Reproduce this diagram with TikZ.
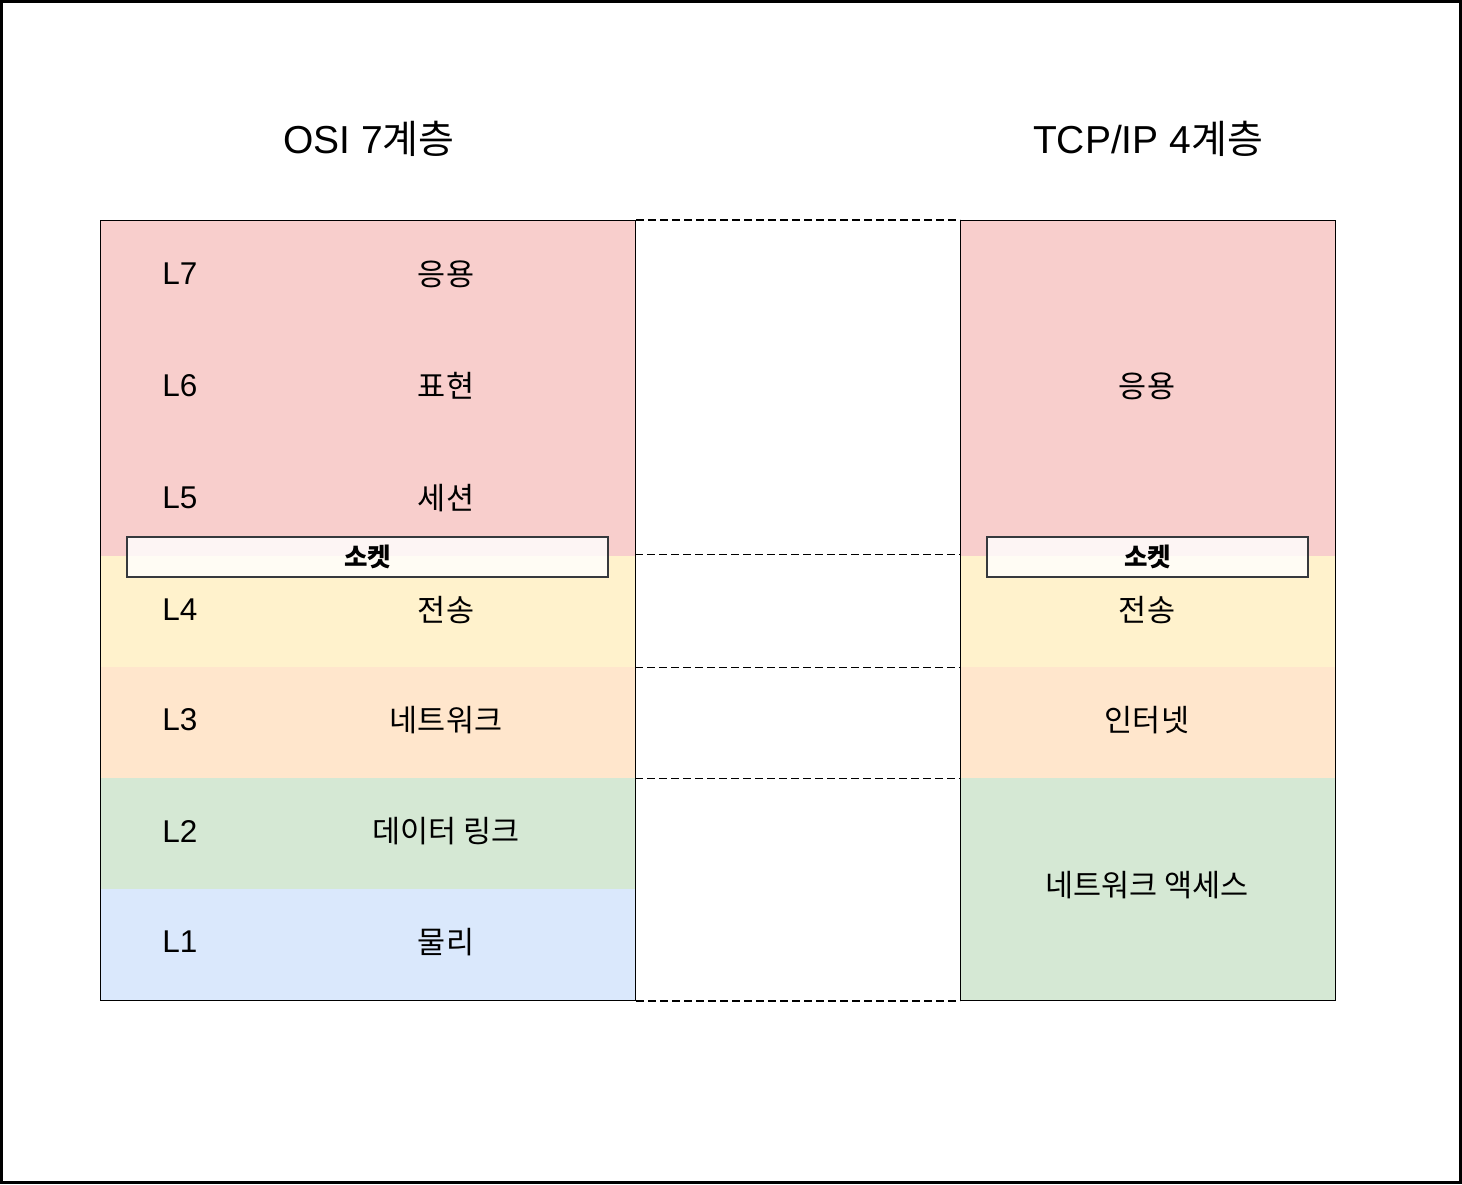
\documentclass[tikz,border=0pt]{standalone}
\usepackage{fontspec}
\setmainfont{Liberation Sans}
\newfontfamily\kr{Noto Sans CJK KR}
\definecolor{cpink}{HTML}{F8CECC}
\definecolor{cyel}{HTML}{FFF2CC}
\definecolor{corg}{HTML}{FFE6CC}
\definecolor{cgrn}{HTML}{D5E8D4}
\definecolor{cblu}{HTML}{DAE8FC}
\definecolor{sockline}{HTML}{36393D}
\begin{document}
\begin{tikzpicture}[x=1pt,y=-1pt,
  band/.style={rectangle, inner sep=0pt, anchor=north west, draw=none},
  frame/.style={rectangle, inner sep=0pt, anchor=north west, draw=black, line width=1pt, fill=none},
  sock/.style={rectangle, inner sep=0pt, draw=sockline, line width=2pt, fill=white, fill opacity=0.8, text opacity=1, font=\kr\fontsize{25.5}{30}\selectfont\bfseries},
  lay/.style={font=\fontsize{31.5}{36}\selectfont},
  krl/.style={font=\kr\fontsize{30.5}{36}\selectfont},
  ttl/.style={font=\fontsize{39}{46}\selectfont},
  dashline/.style={draw=black, line width=1.8pt, dash pattern=on 8pt off 4pt}]
\useasboundingbox (0,0) rectangle (1462,1184);
\draw[line width=3pt] (1.5,1.5) rectangle (1460.5,1182.5);
% titles
\node[ttl] (t1) at (369,139) {OSI 7{\kr 계층}};
\node[ttl] (t2) at (1148,139) {TCP/IP 4{\kr 계층}};
% OSI bands
\node[band, fill=cpink, minimum width=535pt, minimum height=336pt] (osiA) at (100,220) {};
\node[band, fill=cyel, minimum width=535pt, minimum height=111pt] (osi4) at (100,556) {};
\node[band, fill=corg, minimum width=535pt, minimum height=111pt] (osi3) at (100,667) {};
\node[band, fill=cgrn, minimum width=535pt, minimum height=111pt] (osi2) at (100,778) {};
\node[band, fill=cblu, minimum width=535pt, minimum height=111pt] (osi1) at (100,889) {};
\node[frame, minimum width=535pt, minimum height=780pt] (osi) at (100,220) {};
% TCP bands
\node[band, fill=cpink, minimum width=375pt, minimum height=336pt] (tcpA) at (960,220) {};
\node[band, fill=cyel, minimum width=375pt, minimum height=111pt] (tcp4) at (960,556) {};
\node[band, fill=corg, minimum width=375pt, minimum height=111pt] (tcp3) at (960,667) {};
\node[band, fill=cgrn, minimum width=375pt, minimum height=222pt] (tcp2) at (960,778) {};
\node[frame, minimum width=375pt, minimum height=780pt] (tcp) at (960,220) {};
% OSI labels
\node[lay] (l7) at (180,274) {L7};
\node[lay] (l6) at (180,386) {L6};
\node[lay] (l5) at (180,498) {L5};
\node[lay] (l4) at (180,610) {L4};
\node[lay] (l3) at (180,720) {L3};
\node[lay] (l2) at (180,831) {L2};
\node[lay] (l1) at (180,942) {L1};
\node[krl] (n7) at (446,274) {응용};
\node[krl] (n6) at (446,386) {표현};
\node[krl] (n5) at (446,498) {세션};
\node[krl] (n4) at (446,610) {전송};
\node[krl] (n3) at (446,720) {네트워크};
\node[krl] (n2) at (446,831) {데이터 링크};
\node[krl] (n1) at (446,942) {물리};
% TCP labels
\node[krl] (m4) at (1147,386) {응용};
\node[krl] (m3) at (1147,610) {전송};
\node[krl] (m2) at (1147,720) {인터넷};
\node[krl] (m1) at (1147,885) {네트워크 액세스};
% sockets
\node[sock, minimum width=481pt, minimum height=40pt] (s1) at (367.5,557) {소켓};
\node[sock, minimum width=321pt, minimum height=40pt] (s2) at (1147.5,557) {소켓};
% dashed connectors
\draw[dashline] (osi.north east) -- (tcp.north west);
\draw[dashline] ([yshift=2pt]osiA.south east) -- ([yshift=2pt]tcpA.south west);
\draw[dashline] (osi4.south east) -- (tcp4.south west);
\draw[dashline] (osi3.south east) -- (tcp3.south west);
\draw[dashline] (osi.south east) -- (tcp.south west);
\end{tikzpicture}
\end{document}
